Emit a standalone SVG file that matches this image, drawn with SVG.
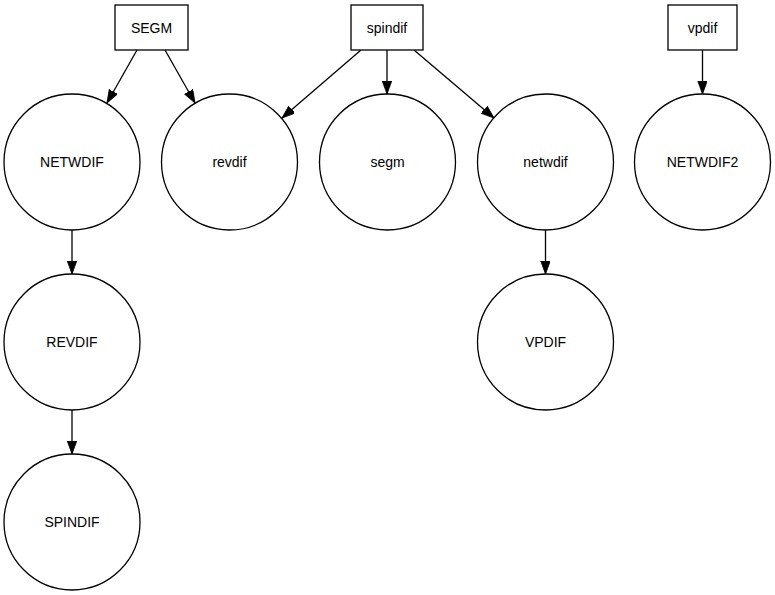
<svg xmlns="http://www.w3.org/2000/svg" width="775" height="595" viewBox="0 0 775 595">
<defs>
<style>
.n{fill:#fff;stroke:#000;stroke-width:1.3}
.t{font-family:"Liberation Sans",Arial,Helvetica,sans-serif;font-size:14px;text-anchor:middle;fill:#000}
.e{stroke:#000;stroke-width:1.3;fill:none}
</style>
<marker id="a" markerWidth="14" markerHeight="11" refX="13" refY="4.75" orient="auto" markerUnits="userSpaceOnUse">
<path d="M0,0 L13,4.75 L0,9.5 z" fill="#000" stroke="#000" stroke-width="0.8"/>
</marker>
</defs>
<rect width="775" height="595" fill="#fff"/>
<g id="edges">
<line class="e" x1="137" y1="50" x2="107" y2="103" marker-end="url(#a)"/>
<line class="e" x1="165" y1="50" x2="195" y2="103" marker-end="url(#a)"/>
<line class="e" x1="361" y1="50" x2="282" y2="118" marker-end="url(#a)"/>
<line class="e" x1="387" y1="50" x2="387" y2="94" marker-end="url(#a)"/>
<line class="e" x1="414" y1="50" x2="494" y2="118" marker-end="url(#a)"/>
<line class="e" x1="702.5" y1="50" x2="702.5" y2="94" marker-end="url(#a)"/>
<line class="e" x1="72" y1="230" x2="72" y2="274" marker-end="url(#a)"/>
<line class="e" x1="545.5" y1="230" x2="545.5" y2="274" marker-end="url(#a)"/>
<line class="e" x1="72" y1="410" x2="72" y2="454" marker-end="url(#a)"/>
</g>
<g id="SEGM"><rect class="n" x="115" y="5" width="73" height="45"/><text class="t" x="151.5" y="32.5">SEGM</text></g>
<g id="spindif"><rect class="n" x="351" y="5" width="72" height="45"/><text class="t" x="387" y="32.5">spindif</text></g>
<g id="vpdif"><rect class="n" x="668" y="5" width="69" height="45"/><text class="t" x="702.5" y="32.5">vpdif</text></g>
<g id="NETWDIF"><circle class="n" cx="72" cy="162" r="68"/><text class="t" x="72" y="167">NETWDIF</text></g>
<g id="revdif"><circle class="n" cx="229.5" cy="162" r="68"/><text class="t" x="229.5" y="167">revdif</text></g>
<g id="segm"><circle class="n" cx="387.5" cy="162" r="68"/><text class="t" x="387.5" y="167">segm</text></g>
<g id="netwdif"><circle class="n" cx="545.5" cy="162" r="68"/><text class="t" x="545.5" y="167">netwdif</text></g>
<g id="NETWDIF2"><circle class="n" cx="702.5" cy="162" r="68"/><text class="t" x="702.5" y="167">NETWDIF2</text></g>
<g id="REVDIF"><circle class="n" cx="72" cy="342" r="68"/><text class="t" x="72" y="347">REVDIF</text></g>
<g id="VPDIF"><circle class="n" cx="545.5" cy="342" r="68"/><text class="t" x="545.5" y="347">VPDIF</text></g>
<g id="SPINDIF"><circle class="n" cx="72" cy="522" r="68"/><text class="t" x="72" y="527">SPINDIF</text></g>
</svg>
